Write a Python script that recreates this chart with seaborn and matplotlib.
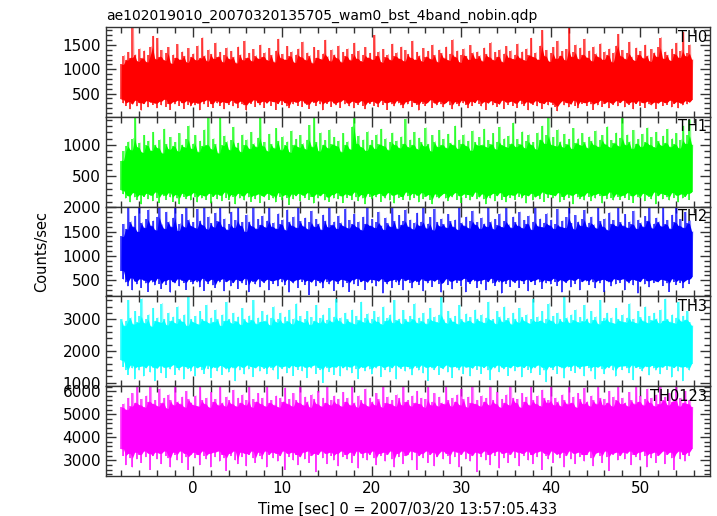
import numpy as np
import pandas as pd
import matplotlib
matplotlib.use("Agg")
import matplotlib.pyplot as plt
import seaborn as sns
from matplotlib.ticker import MultipleLocator

# ---------------- data: max / min of each 0.25 s slice -------------
title = "ae102019010_20070320135705_wam0_bst_4band_nobin.qdp"
xlabel = "Time [sec] 0 = 2007/03/20 13:57:05.433"
ylabel = "Counts/sec"
bands = ["TH0", "TH1", "TH2", "TH3", "TH0123"]
colors = ["#ff0000", "#00ff00", "#0000ff", "#00ffff", "#ff00ff"]
t_start = -8.0
t_step = 0.25

th0_hi = [1100, 1280, 1190, 1350, 1240, 1850, 1300, 1160, 1420, 1230, 1380, 1150, 1290, 1460, 1680, 1210,
          1640, 1260, 1390, 1180, 1330, 1450, 1120, 1300, 1240, 1510, 1200, 1360, 1270, 1140, 1430, 1250,
          1320, 1190, 1480, 1230, 1650, 1280, 1170, 1400, 1310, 1220, 1540, 1260, 1350, 1150, 1290, 1440,
          1210, 1370, 1250, 1130, 1460, 1300, 1190, 1580, 1240, 1330, 1170, 1410, 1280, 1220, 1500, 1260,
          1340, 1180, 1430, 1290, 1150, 1380, 1620, 1230, 1310, 1200, 1470, 1270, 1360, 1140, 1300, 1420,
          1250, 1560, 1190, 1340, 1280, 1130, 1450, 1240, 1390, 1210, 1320, 1600, 1260, 1170, 1400, 1300,
          1230, 1480, 1150, 1350, 1270, 1420, 1190, 1310, 1540, 1220, 1380, 1160, 1290, 1450, 1240, 1330,
          1200, 1700, 1280, 1360, 1140, 1410, 1250, 1300, 1190, 1520, 1270, 1340, 1220, 1460, 1170, 1390,
          1310, 1240, 1580, 1200, 1350, 1280, 1160, 1430, 1260, 1370, 1210, 1500, 1290, 1150, 1400, 1330,
          1230, 1460, 1180, 1320, 1610, 1250, 1380, 1140, 1300, 1420, 1270, 1200, 1490, 1340, 1220, 1360,
          1280, 1170, 1440, 1310, 1250, 1550, 1190, 1350, 1260, 1400, 1150, 1320, 1470, 1240, 1380, 1210,
          1300, 1520, 1230, 1360, 1180, 1420, 1290, 1640, 1250, 1340, 1200, 1480, 1800, 1270, 1390, 1160,
          1330, 1450, 1220, 1580, 1280, 1370, 1190, 1410, 1860, 1260, 1350, 1500, 1210, 1440, 1300, 1620,
          1240, 1380, 1170, 1460, 1320, 1250, 1530, 1200, 1360, 1290, 1420, 1150, 1340, 1480, 1720, 1270,
          1390, 1210, 1330, 1560, 1250, 1180, 1440, 1300, 1370, 1230, 1500, 1280, 1160, 1410, 1340, 1260,
          1450, 1650, 1220, 1360, 1290, 1180, 1420, 1310, 1540, 1240, 1380, 1760, 1270, 1330, 1500, 1200]
th0_lo = [380, 300, 250, 330, 180, 280, 360, 240, 310, 150, 290, 350, 220, 320, 270, 300,
          200, 340, 260, 380, 230, 290, 170, 330, 280, 360, 250, 310, 190, 350, 270, 240,
          320, 260, 300, 160, 340, 280, 370, 230, 290, 210, 350, 300, 250, 330, 180, 310,
          270, 360, 240, 300, 200, 340, 280, 260, 150, 320, 290, 370, 230, 310, 260, 340,
          210, 300, 350, 250, 330, 170, 290, 360, 270, 310, 240, 200, 340, 280, 320, 250,
          360, 230, 300, 270, 190, 340, 310, 250, 360, 280, 160, 320, 290, 350, 230, 300,
          260, 330, 210, 370, 280, 300, 240, 340, 200, 310, 270, 350, 250, 180, 320, 290,
          340, 250, 300, 220, 360, 270, 310, 170, 330, 280, 240, 350, 300, 260, 200, 330,
          280, 360, 230, 310, 270, 150, 340, 290, 250, 320, 370, 210, 300, 260, 340, 280,
          220, 310, 350, 260, 180, 330, 290, 240, 360, 300, 270, 200, 340, 250, 310, 370,
          290, 240, 330, 170, 300, 350, 260, 310, 230, 280, 360, 190, 320, 270, 340, 250,
          300, 210, 360, 280, 250, 330, 160, 300, 270, 350, 240, 310, 190, 290, 340, 260,
          320, 270, 230, 140, 300, 350, 260, 310, 220, 280, 360, 250, 200, 330, 290, 310,
          250, 340, 280, 170, 310, 260, 360, 230, 290, 330, 200, 300, 270, 350, 240, 310,
          360, 220, 300, 270, 330, 180, 290, 350, 250, 310, 210, 340, 280, 260, 320, 190,
          300, 340, 250, 310, 270, 360, 220, 290, 330, 200, 300, 260, 350, 280, 320, 370]

th1_hi = [750, 900, 980, 1050, 920, 1100, 1420, 960, 1030, 880, 1150, 990, 1060, 910, 1200, 1000,
          950, 1080, 870, 1250, 1010, 930, 1120, 980, 1040, 900, 1180, 1000, 960, 1090, 1300, 940,
          1020, 1150, 890, 1060, 980, 1240, 1000, 1420, 930, 1100, 1010, 870, 1420, 990, 1140, 1050,
          920, 1070, 1280, 960, 1030, 890, 1160, 1000, 1080, 940, 1200, 1020, 970, 1110, 1430, 980,
          1040, 900, 1170, 1010, 950, 1260, 1060, 920, 1130, 990, 1050, 880, 1220, 1000, 1090, 960,
          1150, 1020, 930, 1080, 1310, 970, 1420, 1040, 900, 1190, 1000, 1070, 950, 1240, 1010, 1120,
          980, 1060, 890, 1180, 1000, 1050, 930, 1290, 1420, 1020, 1140, 960, 1080, 910, 1210, 1000,
          1070, 940, 1160, 1010, 1250, 980, 1100, 920, 1040, 1190, 1000, 1060, 950, 1130, 1020, 1410,
          960, 1080, 1000, 1200, 930, 1110, 1040, 980, 1270, 1010, 900, 1150, 1050, 970, 1230, 1000,
          1090, 950, 1170, 1030, 1000, 1300, 940, 1080, 1020, 1160, 980, 1060, 910, 1220, 1040, 990,
          1120, 1000, 1250, 960, 1070, 1010, 1180, 930, 1050, 1280, 990, 1100, 960, 1140, 1020, 1350,
          970, 1090, 1010, 1210, 950, 1060, 1160, 1000, 1040, 930, 1190, 1080, 1300, 1020, 1150, 1430,
          1000, 1120, 980, 1240, 1050, 960, 1170, 1010, 1090, 940, 1260, 1030, 1100, 990, 1180, 1040,
          950, 1130, 1060, 1000, 1220, 970, 1080, 1150, 1010, 1290, 960, 1070, 1030, 1190, 980, 1110,
          1420, 1000, 1160, 1050, 940, 1230, 1020, 1090, 970, 1170, 1040, 1270, 1000, 1120, 960, 1200,
          1060, 990, 1140, 1030, 1250, 970, 1100, 1010, 1180, 950, 1080, 1300, 1020, 1150, 1400, 1000]
th1_lo = [280, 220, 150, 190, 90, 240, 170, 130, 210, 60, 180, 230, 140, 200, 110, 250,
          160, 80, 220, 190, 130, 240, 170, 100, 210, 150, 60, 230, 180, 140, 200, 120,
          240, 170, 90, 210, 150, 190, 130, 230, 70, 180, 220, 140, 200, 110, 250, 160,
          130, 210, 180, 60, 230, 150, 190, 120, 240, 170, 100, 200, 140, 220, 80, 190,
          170, 230, 130, 200, 150, 90, 240, 180, 120, 210, 160, 50, 220, 140, 190, 230,
          110, 200, 160, 240, 130, 180, 70, 220, 150, 190, 230, 120, 170, 100, 210, 150,
          240, 140, 190, 80, 220, 160, 200, 130, 250, 170, 110, 210, 150, 60, 230, 180,
          140, 210, 170, 230, 100, 190, 150, 240, 120, 200, 70, 220, 160, 180, 130, 250,
          190, 120, 230, 160, 200, 90, 240, 140, 180, 210, 130, 60, 220, 170, 150, 200,
          230, 150, 110, 200, 170, 240, 130, 190, 80, 220, 160, 210, 120, 180, 250, 140,
          170, 220, 140, 60, 200, 150, 230, 110, 190, 240, 130, 180, 90, 210, 160, 200,
          130, 240, 180, 150, 210, 70, 190, 230, 120, 170, 200, 140, 250, 100, 220, 160,
          210, 150, 190, 240, 90, 180, 130, 220, 160, 200, 60, 230, 170, 140, 190, 120,
          240, 180, 110, 210, 150, 230, 190, 70, 200, 140, 250, 160, 120, 220, 180, 130,
          200, 160, 240, 130, 190, 80, 220, 170, 150, 230, 110, 200, 180, 140, 250, 60,
          190, 230, 140, 210, 170, 120, 240, 160, 200, 90, 220, 150, 180, 230, 130, 250]

th2_hi = [1400, 1650, 1550, 2050, 1700, 1600, 1820, 1500, 2050, 1680, 1580, 1750, 1950, 1620, 1720, 1530,
          1800, 2050, 1640, 1560, 1900, 1700, 1600, 1780, 2050, 1520, 1660, 1850, 1590, 2050, 1740, 1610,
          1690, 1570, 1960, 1720, 1630, 2050, 1550, 1800, 1670, 1590, 1880, 1710, 2050, 1600, 1760, 1540,
          1650, 1900, 1580, 1730, 2050, 1620, 1690, 1500, 1840, 1700, 1610, 1990, 1560, 1750, 1640, 1820,
          1590, 1720, 2050, 1600, 1680, 1560, 1870, 1650, 1740, 1530, 1950, 1700, 1620, 1800, 1580, 2050,
          1710, 1610, 1780, 1550, 1690, 1920, 1600, 1750, 1660, 1540, 1840, 1720, 1590, 2050, 1640, 1700,
          1560, 1820, 1680, 1610, 1970, 1570, 1730, 1650, 1860, 1590, 1700, 1530, 1800, 1660, 2050, 1620,
          1750, 1580, 1690, 1900, 1620, 1540, 1780, 1670, 1600, 2050, 1710, 1560, 1830, 1640, 1720, 1950,
          1600, 1740, 1550, 1680, 1880, 1620, 1700, 2050, 1570, 1660, 1790, 1530, 1960, 1690, 1610, 1760,
          1650, 1580, 1850, 1710, 1600, 1740, 1540, 2050, 1680, 1620, 1800, 1570, 1720, 1920, 1640, 1690,
          1560, 1780, 1660, 1600, 1990, 1700, 1550, 1750, 1630, 1860, 1590, 1710, 2050, 1640, 1580, 1800,
          1690, 1620, 1900, 1570, 1730, 1660, 1820, 1540, 1700, 2050, 1610, 1760, 1590, 1680, 1870, 1630,
          1740, 1560, 1650, 1960, 1600, 1720, 1580, 1790, 2050, 1670, 1550, 1830, 1700, 1620, 1750, 1940,
          1590, 1680, 1800, 1640, 1570, 2050, 1710, 1600, 1760, 1530, 1890, 1660, 1730, 1610, 2050, 1690,
          1620, 1850, 1580, 1700, 1650, 1920, 1560, 1740, 1680, 1600, 1810, 1720, 2050, 1570, 1660, 1780,
          1700, 1610, 1980, 1650, 1730, 1560, 1840, 1690, 2050, 1620, 1750, 1580, 1900, 1670, 1720, 1500]
th2_lo = [700, 520, 460, 380, 550, 300, 480, 420, 530, 350, 500, 440, 270, 510, 460, 400,
          540, 430, 330, 490, 410, 520, 250, 470, 440, 530, 380, 500, 450, 310, 520, 470,
          420, 510, 460, 360, 540, 290, 480, 430, 520, 400, 350, 500, 460, 530, 280, 470,
          510, 380, 450, 520, 330, 490, 440, 540, 410, 260, 500, 470, 420, 530, 360, 480,
          450, 520, 300, 490, 430, 510, 380, 540, 460, 400, 520, 250, 480, 440, 510, 350,
          530, 470, 410, 500, 200, 460, 520, 380, 490, 440, 340, 530, 470, 420, 510, 290,
          480, 430, 520, 360, 500, 450, 270, 510, 420, 540, 390, 470, 500, 310, 460, 520,
          440, 510, 380, 480, 530, 230, 470, 420, 500, 350, 520, 460, 410, 540, 300, 490,
          520, 450, 340, 500, 470, 410, 530, 280, 490, 440, 510, 370, 480, 520, 430, 250,
          460, 530, 410, 480, 320, 510, 450, 500, 390, 540, 260, 470, 430, 520, 480, 350,
          500, 420, 520, 300, 470, 540, 440, 390, 510, 460, 230, 490, 430, 520, 370, 480,
          450, 510, 350, 490, 430, 520, 280, 470, 500, 410, 530, 460, 330, 510, 440, 490,
          420, 540, 470, 390, 510, 250, 480, 450, 520, 360, 500, 430, 540, 300, 470, 510,
          480, 410, 530, 460, 340, 500, 440, 520, 270, 490, 460, 380, 530, 420, 510, 450,
          530, 300, 480, 440, 520, 400, 500, 230, 470, 540, 420, 490, 360, 510, 450, 480,
          460, 520, 390, 500, 440, 270, 530, 470, 410, 510, 450, 340, 490, 520, 430, 560]

th3_hi = [3000, 2800, 2950, 3600, 3050, 2850, 3250, 2900, 3100, 3650, 2880, 3000, 3150, 2780, 3350, 2950,
          3050, 2900, 3500, 3000, 2820, 3200, 2960, 3080, 2870, 3400, 3020, 2930, 3150, 2800, 3700, 3000,
          2900, 3100, 2850, 3250, 3000, 2950, 3450, 2880, 3050, 2920, 3300, 3000, 2800, 3150, 2960, 3550,
          3000, 2870, 3200, 2940, 3080, 2830, 3350, 3010, 2900, 3120, 2980, 3600, 2860, 3050, 2930, 3250,
          2950, 3150, 2820, 3050, 3400, 2900, 3000, 3200, 2880, 3080, 2940, 3300, 2850, 3020, 3500, 2960,
          3100, 2900, 3000, 3250, 2830, 3060, 2950, 3450, 2890, 3030, 3150, 2870, 2990, 3350, 2920, 3080,
          3650, 2950, 3050, 2860, 3200, 3000, 2910, 3300, 2850, 3100, 2980, 3550, 2900, 3040, 3180, 2870,
          3000, 3250, 2930, 3080, 2840, 3400, 2960, 3050, 3150, 2890, 3600, 2970, 3010, 2860, 3280, 3000,
          2920, 3100, 3000, 3500, 2880, 3050, 2940, 3200, 2860, 3020, 3350, 2950, 3080, 2900, 3150, 3700,
          2990, 2870, 3250, 3040, 2930, 3100, 2850, 3450, 3000, 2910, 3180, 2960, 3060, 2880, 3300, 3020,
          2940, 3150, 2890, 3050, 3550, 2970, 3000, 2860, 3250, 3080, 2920, 3400, 2980, 3040, 2850, 3200,
          3010, 2900, 3350, 3060, 2940, 3150, 2870, 3000, 3650, 2930, 3080, 2960, 3250, 2880, 3020, 3500,
          2950, 3100, 2860, 3200, 3000, 2920, 3700, 3050, 2890, 3150, 2970, 3300, 2900, 3060, 2940, 3450,
          3020, 2880, 3250, 2990, 3080, 2850, 3600, 2960, 3040, 3200, 2910, 3050, 2870, 3350, 3000, 2940,
          3150, 2900, 3050, 3500, 2930, 3010, 2880, 3250, 3060, 2950, 3400, 2890, 3100, 2970, 3200, 3020,
          2880, 3300, 2960, 3650, 3000, 2920, 3150, 2870, 3050, 3550, 2940, 3100, 2990, 3250, 2900, 2800]
th3_lo = [1700, 1500, 1400, 1250, 1550, 1450, 1100, 1500, 1380, 1520, 1200, 1460, 1550, 1320, 1480, 1050,
          1450, 1530, 1300, 1480, 1150, 1500, 1420, 1560, 1250, 1470, 1380, 1520, 1100, 1490, 1440, 1350,
          1530, 1200, 1460, 1510, 1400, 1280, 1550, 1430, 1150, 1500, 1470, 1360, 1540, 1250, 1480, 1420,
          1320, 1500, 1450, 1050, 1530, 1390, 1480, 1260, 1550, 1420, 1500, 1180, 1460, 1530, 1350, 1490,
          1440, 1270, 1520, 1470, 1380, 1550, 1100, 1490, 1430, 1520, 1300, 1460, 1540, 1220, 1500, 1410,
          1530, 1360, 1480, 1150, 1510, 1450, 1550, 1280, 1470, 1400, 1000, 1520, 1460, 1340, 1500, 1250,
          1480, 1540, 1200, 1460, 1520, 1380, 1490, 1300, 1550, 1430, 1120, 1500, 1470, 1360, 1530, 1420,
          1260, 1510, 1450, 1540, 1180, 1480, 1400, 1520, 1330, 1460, 1550, 1100, 1490, 1440, 1520, 1350,
          1500, 1420, 1230, 1530, 1470, 1380, 1550, 1290, 1480, 1060, 1510, 1450, 1400, 1540, 1250, 1470,
          1430, 1550, 1320, 1490, 1150, 1510, 1460, 1380, 1530, 1270, 1480, 1500, 1200, 1450, 1540, 1410,
          1520, 1280, 1470, 1530, 1390, 1080, 1500, 1450, 1550, 1330, 1480, 1420, 1510, 1220, 1460, 1540,
          1360, 1490, 1520, 1170, 1470, 1540, 1410, 1300, 1500, 1460, 1550, 1250, 1480, 1380, 1020, 1510,
          1470, 1400, 1540, 1280, 1500, 1450, 1130, 1520, 1480, 1370, 1550, 1310, 1490, 1430, 1520, 1200,
          1540, 1460, 1350, 1510, 1100, 1480, 1530, 1420, 1270, 1500, 1460, 1550, 1380, 1190, 1490, 1520,
          1400, 1530, 1460, 1300, 1550, 1080, 1470, 1510, 1440, 1360, 1520, 1490, 1230, 1540, 1450, 1380,
          1500, 1270, 1480, 1540, 1410, 1520, 1160, 1470, 1530, 1350, 1490, 1050, 1510, 1450, 1380, 1600]

th0123_hi = [5300, 5450, 5200, 5700, 5350, 5900, 5500, 6250, 5400, 5650, 5300, 5800, 5550, 6250, 5450, 5600,
             5350, 6100, 5500, 5700, 5250, 5850, 5600, 5400, 6250, 5550, 5450, 5750, 5300, 6000, 5650, 5500,
             5400, 5800, 5350, 6250, 5600, 5450, 5700, 5300, 5950, 5550, 5650, 5400, 6250, 5500, 5350, 5750,
             5600, 5450, 6050, 5350, 5700, 5500, 5850, 5400, 5600, 6250, 5300, 5650, 5550, 5900, 5450, 5700,
             5350, 6250, 5500, 5600, 5400, 5800, 5300, 5700, 5550, 6150, 5450, 5650, 5350, 5900, 5600, 5500,
             6250, 5400, 5750, 5550, 5300, 5850, 5650, 5450, 6000, 5350, 5700, 5500, 6250, 5400, 5600, 5800,
             5450, 5650, 5350, 5950, 5550, 5700, 5400, 6250, 5500, 5300, 5800, 5600, 5450, 6100, 5350, 5700,
             5550, 5400, 5900, 5650, 5300, 6250, 5500, 5750, 5450, 5600, 5350, 5850, 5700, 5400, 6250, 5550,
             5600, 5350, 5800, 5500, 6000, 5450, 5700, 5300, 5650, 6250, 5400, 5550, 5900, 5350, 5750, 5500,
             5450, 6250, 5600, 5350, 5700, 5550, 5850, 5400, 6100, 5650, 5300, 5750, 5500, 6250, 5450, 5600,
             5350, 5800, 5550, 5700, 5400, 6250, 5600, 5450, 5950, 5300, 5650, 5500, 5850, 5400, 6250, 5700,
             5500, 5650, 5300, 5900, 5550, 5750, 5400, 6250, 5600, 5450, 5800, 5350, 6050, 5700, 5500, 5600,
             6250, 5400, 5700, 5550, 5350, 5850, 5600, 5450, 6250, 5500, 5750, 5300, 5900, 5650, 5450, 6150,
             5550, 5350, 5800, 5600, 5450, 6250, 5700, 5400, 5650, 5500, 6000, 5350, 5750, 5600, 6250, 5450,
             5700, 5500, 5350, 5950, 5600, 5450, 6250, 5550, 5800, 5400, 5650, 6100, 5500, 5700, 5350, 5850,
             5450, 6250, 5600, 5750, 5400, 5900, 5550, 5650, 6250, 5350, 5700, 5500, 6000, 5450, 5600, 5300]
th0123_lo = [3500, 3200, 2800, 3300, 3100, 2700, 3350, 3050, 3250, 2900, 3400, 3150, 3300, 2600, 3200, 3350,
             3050, 3300, 2850, 3400, 3200, 3100, 2700, 3350, 3250, 3000, 3400, 2900, 3300, 3150, 2600, 3250,
             3350, 3100, 3250, 2800, 3400, 3200, 3050, 3300, 2700, 3350, 3150, 3400, 2950, 3250, 3100, 2550,
             3300, 3200, 3400, 3000, 2850, 3350, 3150, 3300, 2750, 3250, 3400, 3100, 2900, 3350, 3200, 3050,
             3400, 2700, 3250, 3350, 3100, 3300, 2950, 3200, 3400, 2600, 3300, 3150, 3350, 3000, 3250, 2800,
             3150, 3350, 3050, 3400, 2900, 3200, 3300, 2500, 3250, 3400, 3100, 3300, 2850, 3350, 3200, 3000,
             3300, 2750, 3400, 3150, 3250, 3050, 3350, 2900, 3200, 3400, 2650, 3300, 3100, 3350, 3000, 3250,
             3400, 3100, 2800, 3300, 3200, 3350, 2950, 3250, 3400, 3050, 2700, 3300, 3150, 3400, 2850, 3200,
             3250, 3400, 3000, 3350, 2600, 3200, 3300, 3100, 3400, 2900, 3250, 3350, 2750, 3150, 3300, 3400,
             3050, 3300, 3200, 2850, 3400, 3150, 3350, 2700, 3250, 3400, 3050, 3300, 2950, 3200, 3350, 2500,
             3300, 3150, 3400, 3000, 3250, 2800, 3350, 3200, 3400, 2650, 3300, 3100, 3350, 2900, 3250, 3400,
             3100, 3350, 2750, 3300, 3200, 3400, 3000, 3250, 2850, 3350, 3150, 3400, 2600, 3300, 3200, 3050,
             3400, 2900, 3300, 3250, 3100, 3350, 2700, 3200, 3400, 3050, 3300, 2850, 3350, 3150, 3250, 2950,
             3250, 3400, 3100, 2750, 3300, 3350, 3200, 2900, 3400, 3150, 2550, 3300, 3250, 3350, 3000, 3200,
             3350, 3050, 3300, 3400, 2800, 3250, 3150, 3350, 3000, 3400, 3200, 2700, 3300, 3100, 3350, 2900,
             3200, 3300, 3400, 2850, 3250, 3350, 3100, 2600, 3300, 3400, 3050, 3250, 2950, 3350, 3200, 3500]

his = [th0_hi, th1_hi, th2_hi, th3_hi, th0123_hi]
los = [th0_lo, th1_lo, th2_lo, th3_lo, th0123_lo]

ylims = [(20, 1870), (20, 1445), (170, 2012), (883, 3725), (2320, 6216)]
ymajor = [500, 500, 500, 1000, 1000]
yminor = [100, 100, 100, 200, 200]
xlim = (-9.7, 57.8)

# ---------------- figure ----------------
sns.set_style("ticks")
plt.rcParams["font.family"] = ["DejaVu Sans"]

fig = plt.figure(figsize=(7.17, 5.16), dpi=100)
gs = fig.add_gridspec(5, 1, left=106/717, right=710/717, top=1-27/516, bottom=1-476/516, hspace=0)

for k in range(5):
    ax = fig.add_subplot(gs[k])
    hi = pd.Series(his[k], dtype=float)
    lo = pd.Series(los[k], dtype=float)
    t = t_start + t_step * np.arange(len(hi))
    # solid core: the band that both neighbouring slices cover
    core_top = hi.rolling(2, min_periods=1).min()
    core_bot = lo.rolling(2, min_periods=1).max()
    ax.fill_between(t, core_bot, core_top, color=colors[k], lw=0)
    # needle spikes: full range of each slice
    ax.vlines(t, lo, hi, color=colors[k], lw=1.1, alpha=0.9)
    # light zig-zag texture between slice extremes
    zz = pd.DataFrame({"t": np.repeat(t, 2) + np.tile([0.0, t_step / 2], len(t)),
                       "y": np.column_stack([lo, hi]).ravel()})
    sns.lineplot(data=zz, x="t", y="y", sort=False, estimator=None, ax=ax,
                 color=colors[k], lw=0.7, alpha=0.45)

    ax.set_xlim(*xlim)
    ax.set_ylim(*ylims[k])
    ax.xaxis.set_major_locator(MultipleLocator(10))
    ax.xaxis.set_minor_locator(MultipleLocator(2))
    ax.yaxis.set_major_locator(MultipleLocator(ymajor[k]))
    ax.yaxis.set_minor_locator(MultipleLocator(yminor[k]))
    ax.tick_params(which="both", direction="in", top=True, right=True,
                   color="#333333", width=1.0, labelsize=11, labelcolor="black")
    ax.tick_params(which="major", length=7)
    ax.tick_params(which="minor", length=4)
    for s in ax.spines.values():
        s.set_color("#333333")
        s.set_linewidth(1.0)
    ax.set_xlabel("")
    ax.set_ylabel("")
    if k < 4:
        ax.tick_params(labelbottom=False)
    ax.text(0.995, 0.97, bands[k], transform=ax.transAxes, ha="right", va="top",
            fontsize=10.5, color="black")
    if k == 4:
        ax.set_xlabel(xlabel, fontsize=10.5, color="black")
    if k == 0:
        ax.set_title(title, loc="left", fontsize=10, pad=5, color="black")

fig.text(42/717, 1-252/516, ylabel, rotation=90, ha="center", va="center",
         fontsize=10.5, color="black")

fig.savefig("out.png", dpi=100)
